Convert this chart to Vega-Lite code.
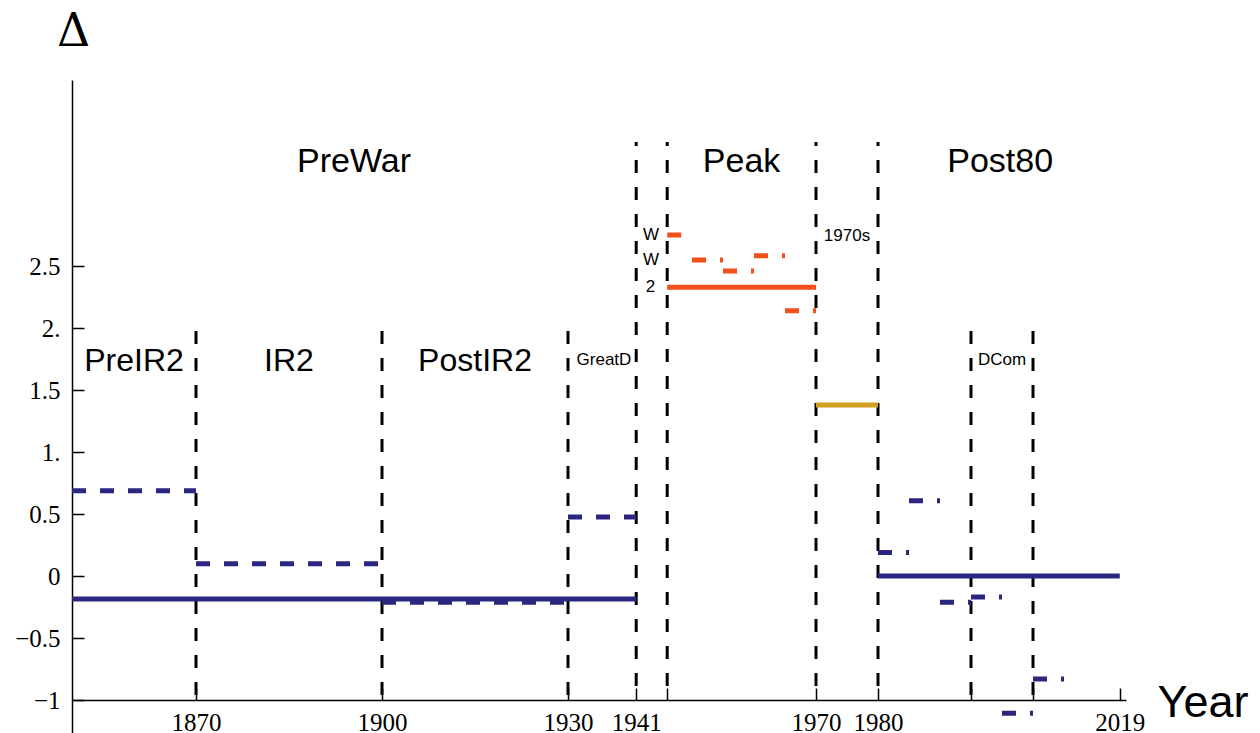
{
  "$schema": "https://vega.github.io/schema/vega-lite/v6.json",
  "width": 1054,
  "height": 653,
  "autosize": {"type": "none"},
  "padding": {"left": 72, "top": 80, "right": 134, "bottom": 0},
  "background": "white",
  "config": {"view": {"stroke": null}},
  "datasets": {
    "segs": [
      {"start": 1850, "end": 1941, "value": -0.186, "kind": "overall", "group": "A"},
      {"start": 1850, "end": 1870, "value": 0.688, "kind": "sub", "group": "A"},
      {"start": 1870, "end": 1900, "value": 0.099, "kind": "sub", "group": "A"},
      {"start": 1900, "end": 1930, "value": -0.212, "kind": "sub", "group": "A"},
      {"start": 1930, "end": 1941, "value": 0.476, "kind": "sub", "group": "A"},
      {"start": 1946, "end": 1970, "value": 2.328, "kind": "overall", "group": "B"},
      {"start": 1946, "end": 1950, "value": 2.75, "kind": "sub", "group": "B"},
      {"start": 1950, "end": 1955, "value": 2.548, "kind": "sub", "group": "B"},
      {"start": 1955, "end": 1960, "value": 2.46, "kind": "sub", "group": "B"},
      {"start": 1960, "end": 1965, "value": 2.583, "kind": "sub", "group": "B"},
      {"start": 1965, "end": 1970, "value": 2.14, "kind": "sub", "group": "B"},
      {"start": 1970, "end": 1980, "value": 1.379, "kind": "overall", "group": "C"},
      {"start": 1980, "end": 2019, "value": 0.0, "kind": "overall", "group": "A"},
      {"start": 1980, "end": 1985, "value": 0.19, "kind": "sub", "group": "A"},
      {"start": 1985, "end": 1990, "value": 0.607, "kind": "sub", "group": "A"},
      {"start": 1990, "end": 1995, "value": -0.212, "kind": "sub", "group": "A"},
      {"start": 1995, "end": 2000, "value": -0.169, "kind": "sub", "group": "A"},
      {"start": 2000, "end": 2005, "value": -1.107, "kind": "sub", "group": "A"},
      {"start": 2005, "end": 2010, "value": -0.83, "kind": "sub", "group": "A"}
    ],
    "vlines": [
      {"year": 1870, "top": 2.0},
      {"year": 1900, "top": 2.0},
      {"year": 1930, "top": 2.0},
      {"year": 1941, "top": 3.5},
      {"year": 1946, "top": 3.5},
      {"year": 1970, "top": 3.5},
      {"year": 1980, "top": 3.5},
      {"year": 1995, "top": 2.0},
      {"year": 2005, "top": 2.0}
    ],
    "labels": [
      {"year": 1895.5, "value": 3.258, "text": "PreWar", "level": "big"},
      {"year": 1958, "value": 3.258, "text": "Peak", "level": "big"},
      {"year": 1999.7, "value": 3.258, "text": "Post80", "level": "big"},
      {"year": 1860, "value": 1.653, "text": "PreIR2", "level": "mid"},
      {"year": 1885, "value": 1.653, "text": "IR2", "level": "mid"},
      {"year": 1915, "value": 1.653, "text": "PostIR2", "level": "mid"},
      {"year": 1935.8, "value": 1.7, "text": "GreatD", "level": "small"},
      {"year": 2000, "value": 1.7, "text": "DCom", "level": "small"},
      {"year": 1975, "value": 2.7, "text": "1970s", "level": "small"},
      {"year": 1943.4, "value": 2.71, "text": "W", "level": "small"},
      {"year": 1943.4, "value": 2.508, "text": "W", "level": "small"},
      {"year": 1943.3, "value": 2.29, "text": "2", "level": "small"}
    ]
  },
  "layer": [
    {
      "data": {"name": "vlines"},
      "transform": [{"filter": "datum.top > 3"}],
      "mark": {"type": "rule", "color": "black", "strokeWidth": 3, "strokeDash": [13, 14], "strokeDashOffset": 9},
      "encoding": {
        "x": {
          "field": "year", "type": "quantitative",
          "scale": {"domain": [1850, 2020], "nice": false, "zero": false},
          "axis": {
            "values": [1870, 1900, 1930, 1941, 1946, 1970, 1980, 1995, 2005, 2019],
            "format": "d",
            "labelExpr": "(datum.value == 1946 || datum.value == 1995 || datum.value == 2005) ? '' : datum.label",
            "offset": -33,
            "grid": false,
            "domainColor": "black",
            "domainWidth": 1.5,
            "tickColor": "black",
            "tickWidth": 1.5,
            "tickSize": -12,
            "labelPadding": 22,
            "labelFont": "Liberation Serif",
            "labelFontSize": 25,
            "labelColor": "black",
            "labelOverlap": false,
            "labelFlush": false,
            "title": "Year",
            "titleFont": "Liberation Sans",
            "titleFontSize": 45,
            "titleFontWeight": "normal",
            "titleColor": "black",
            "titleAlign": "left",
            "titleBaseline": "alphabetic",
            "titleAnchor": "start",
            "titleX": 1085,
            "titleY": 16
          }
        },
        "y": {
          "field": "top", "type": "quantitative",
          "scale": {"domain": [-1.266, 4], "nice": false, "zero": false},
          "axis": {
            "values": [-1, -0.5, 0, 0.5, 1, 1.5, 2, 2.5],
            "labelExpr": "datum.value == 2 ? '2.' : datum.value == 1 ? '1.' : datum.value < 0 ? '\u2212' + format(-datum.value, '') : format(datum.value, '')",
            "grid": false,
            "domainColor": "black",
            "domainWidth": 1.5,
            "tickColor": "black",
            "tickWidth": 1.5,
            "tickSize": -12,
            "labelPadding": 24,
            "labelFont": "Liberation Serif",
            "labelFontSize": 25,
            "labelColor": "black",
            "labelOverlap": false,
            "labelFlush": false,
            "title": "\u0394",
            "titleFont": "DejaVu Serif",
            "titleFontSize": 46,
            "titleFontWeight": "normal",
            "titleColor": "black",
            "titleAngle": 0,
            "titleAlign": "center",
            "titleBaseline": "alphabetic",
            "titleX": 1,
            "titleY": -35
          }
        },
        "y2": {"datum": -1}
      }
    },
    {
      "data": {"name": "vlines"},
      "transform": [{"filter": "datum.top < 3"}],
      "mark": {"type": "rule", "color": "black", "strokeWidth": 3, "strokeDash": [13, 14], "strokeDashOffset": 24},
      "encoding": {
        "x": {"field": "year", "type": "quantitative"},
        "y": {"field": "top", "type": "quantitative"},
        "y2": {"datum": -1}
      }
    },
    {
      "data": {"name": "segs"},
      "mark": {"type": "rule", "strokeWidth": 5},
      "encoding": {
        "x": {"field": "start", "type": "quantitative"},
        "x2": {"field": "end"},
        "y": {"field": "value", "type": "quantitative"},
        "color": {
          "field": "group", "type": "nominal",
          "scale": {"domain": ["A", "B", "C"], "range": ["#2b2680", "#f2501a", "#d19e1e"]},
          "legend": null
        },
        "strokeDash": {
          "field": "kind", "type": "nominal",
          "scale": {"domain": ["overall", "sub"], "range": [[1, 0], [14, 14]]},
          "legend": null
        }
      }
    },
    {
      "data": {"name": "labels"},
      "transform": [{"filter": "datum.level == 'big'"}],
      "mark": {"type": "text", "font": "Liberation Sans", "fontSize": 34, "align": "center", "baseline": "alphabetic", "color": "black"},
      "encoding": {
        "x": {"field": "year", "type": "quantitative"},
        "y": {"field": "value", "type": "quantitative"},
        "text": {"field": "text"}
      }
    },
    {
      "data": {"name": "labels"},
      "transform": [{"filter": "datum.level == 'mid'"}],
      "mark": {"type": "text", "font": "Liberation Sans", "fontSize": 32, "align": "center", "baseline": "alphabetic", "color": "black"},
      "encoding": {
        "x": {"field": "year", "type": "quantitative"},
        "y": {"field": "value", "type": "quantitative"},
        "text": {"field": "text"}
      }
    },
    {
      "data": {"name": "labels"},
      "transform": [{"filter": "datum.level == 'small'"}],
      "mark": {"type": "text", "font": "Liberation Sans", "fontSize": 17, "align": "center", "baseline": "alphabetic", "color": "black"},
      "encoding": {
        "x": {"field": "year", "type": "quantitative"},
        "y": {"field": "value", "type": "quantitative"},
        "text": {"field": "text"}
      }
    }
  ]
}
